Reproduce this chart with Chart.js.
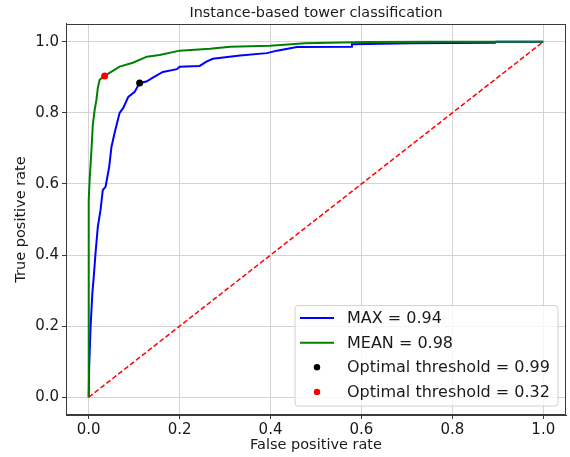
<!DOCTYPE html>
<html><head><meta charset="utf-8">
<script src="https://cdn.jsdelivr.net/npm/chart.js@4/dist/chart.umd.min.js"></script>
<style>html,body{margin:0;padding:0;background:#fff;overflow:hidden}</style>
</head><body>
<canvas id="c" width="570" height="457"></canvas>
<script>
// ---- data ----
const titleText = 'Instance-based tower classification';
const xLabel = 'False positive rate';
const yLabel = 'True positive rate';
const xTicks = [0, 0.2, 0.4, 0.6, 0.8, 1.0];
const yTicks = [0, 0.2, 0.4, 0.6, 0.8, 1.0];

const maxLabel = 'MAX = 0.94';
const maxFpr = [0, 0.001, 0.004, 0.008, 0.011, 0.015, 0.020, 0.026, 0.031, 0.037, 0.045, 0.050, 0.057, 0.068, 0.076, 0.087, 0.101, 0.112, 0.127, 0.141, 0.163, 0.194, 0.200, 0.244, 0.260, 0.273, 0.333, 0.392, 0.414, 0.458, 0.577, 0.579, 0.707, 0.894, 0.896, 1.0];
const maxTpr = [0, 0.085, 0.197, 0.293, 0.338, 0.406, 0.479, 0.527, 0.583, 0.592, 0.648, 0.704, 0.744, 0.800, 0.814, 0.845, 0.859, 0.884, 0.888, 0.899, 0.915, 0.923, 0.930, 0.932, 0.945, 0.952, 0.961, 0.968, 0.975, 0.985, 0.986, 0.993, 0.996, 0.997, 1.0, 1.0];

const meanLabel = 'MEAN = 0.98';
const meanFpr = [0, 0, 0.002, 0.006, 0.009, 0.013, 0.017, 0.020, 0.024, 0.035, 0.053, 0.068, 0.097, 0.128, 0.156, 0.200, 0.267, 0.311, 0.399, 0.476, 0.61, 0.75, 1.0];
const meanTpr = [0, 0.555, 0.611, 0.696, 0.766, 0.808, 0.837, 0.870, 0.893, 0.904, 0.918, 0.930, 0.941, 0.958, 0.963, 0.975, 0.980, 0.986, 0.989, 0.996, 0.999, 1.0, 1.0];

const chanceFpr = [0, 1];
const chanceTpr = [0, 1];

const optMaxLabel = 'Optimal threshold = 0.99';
const optMaxPoint = [0.112, 0.884];
const optMeanLabel = 'Optimal threshold = 0.32';
const optMeanPoint = [0.035, 0.904];

// ---- build ----
const zip = (xs, ys) => xs.map((x, i) => ({x: x, y: ys[i]}));
const FONT = "'DejaVu Sans', sans-serif";
const TXT = '#1a1a1a';

const frameAndLegend = {
  id: 'frameAndLegend',
  afterDatasetsDraw(chart) {
    const ctx = chart.ctx, a = chart.chartArea;
    const items = chart.data.datasets.filter(d => d.legend);
    const right = a.right - 8, bottom = a.bottom - 9;
    const w = 263, rowH = 24.6, h = items.length * rowH + 2;
    const left = right - w, top = bottom - h;
    ctx.save();
    ctx.beginPath();
    ctx.roundRect(left, top, w, h, 3);
    ctx.fillStyle = 'rgba(255,255,255,0.8)';
    ctx.fill();
    ctx.strokeStyle = '#d0d0d0';
    ctx.lineWidth = 1;
    ctx.stroke();
    ctx.font = '16px ' + FONT;
    ctx.textBaseline = 'middle';
    ctx.textAlign = 'left';
    items.forEach((d, i) => {
      const cy = top + 12.5 + i * rowH;
      if (d.showLine) {
        ctx.beginPath();
        ctx.moveTo(left + 5, cy);
        ctx.lineTo(left + 39, cy);
        ctx.strokeStyle = d.borderColor;
        ctx.lineWidth = d.borderWidth;
        ctx.setLineDash([]);
        ctx.stroke();
      } else {
        ctx.beginPath();
        ctx.arc(left + 22, cy, 3.2, 0, Math.PI * 2);
        ctx.fillStyle = d.backgroundColor;
        ctx.fill();
      }
      ctx.fillStyle = TXT;
      ctx.fillText(d.label, left + 52, cy + 1);
    });
    ctx.restore();
  },
  afterDraw(chart) {
    const ctx = chart.ctx, a = chart.chartArea;
    ctx.save();
    ctx.strokeStyle = '#3a3a3a';
    ctx.lineWidth = 1;
    ctx.strokeRect(Math.round(a.left) + 0.5, Math.round(a.top) + 0.5, Math.round(a.right - a.left) - 1, Math.round(a.bottom - a.top) - 1);
    ctx.restore();
  }
};

const setTicks = vals => scale => { scale.ticks = vals.map(v => ({value: v})); };

new Chart(document.getElementById('c'), {
  type: 'scatter',
  data: {
    datasets: [
      {label: maxLabel, legend: true, data: zip(maxFpr, maxTpr), showLine: true, borderColor: '#0000ff', backgroundColor: '#0000ff', borderWidth: 2, pointRadius: 0, order: 4},
      {label: meanLabel, legend: true, data: zip(meanFpr, meanTpr), showLine: true, borderColor: '#008000', backgroundColor: '#008000', borderWidth: 2, pointRadius: 0, order: 3},
      {label: 'chance', legend: false, data: zip(chanceFpr, chanceTpr), showLine: true, borderColor: '#ff0000', backgroundColor: '#ff0000', borderWidth: 1.5, borderDash: [5, 2.5], pointRadius: 0, order: 2},
      {label: optMaxLabel, legend: true, data: [{x: optMaxPoint[0], y: optMaxPoint[1]}], showLine: false, backgroundColor: '#000000', borderColor: '#000000', borderWidth: 0, pointRadius: 3.5, order: 1},
      {label: optMeanLabel, legend: true, data: [{x: optMeanPoint[0], y: optMeanPoint[1]}], showLine: false, backgroundColor: '#ff0000', borderColor: '#ff0000', borderWidth: 0, pointRadius: 3.5, order: 0}
    ]
  },
  options: {
    responsive: false,
    animation: false,
    devicePixelRatio: 1,
    layout: {padding: {left: 0, right: 4, top: 0, bottom: 0}},
    plugins: {
      legend: {display: false},
      tooltip: {enabled: false},
      title: {display: true, text: titleText, fullSize: false, color: TXT, font: {family: FONT, size: 14.4, weight: 'normal'}, padding: {top: 4.4, bottom: 2.3}}
    },
    scales: {
      x: {
        type: 'linear', min: -0.05, max: 1.05,
        afterBuildTicks: setTicks(xTicks),
        afterFit: s => { s.height = 42; },
        grid: {color: '#d3d3d3', lineWidth: 1, tickLength: 4, tickColor: '#3a3a3a', drawTicks: true},
        border: {display: true, color: '#3a3a3a', width: 1},
        ticks: {color: TXT, font: {family: FONT, size: 15}, padding: 2, maxRotation: 0, callback: v => v.toFixed(1)},
        title: {display: true, text: xLabel, color: TXT, font: {family: FONT, size: 14.5}, padding: {top: 0, bottom: 3.3}}
      },
      y: {
        type: 'linear', min: -0.05, max: 1.05,
        afterBuildTicks: setTicks(yTicks),
        afterFit: s => { s.width = 66; },
        grid: {color: '#d3d3d3', lineWidth: 1, tickLength: 4, tickColor: '#3a3a3a', drawTicks: true},
        border: {display: true, color: '#3a3a3a', width: 1},
        ticks: {color: TXT, font: {family: FONT, size: 15}, padding: 3, callback: v => v.toFixed(1)},
        title: {display: true, text: yLabel, color: TXT, font: {family: FONT, size: 14.5}, padding: {top: 13, bottom: 0}}
      }
    }
  },
  plugins: [frameAndLegend]
});
</script>
</body></html>
